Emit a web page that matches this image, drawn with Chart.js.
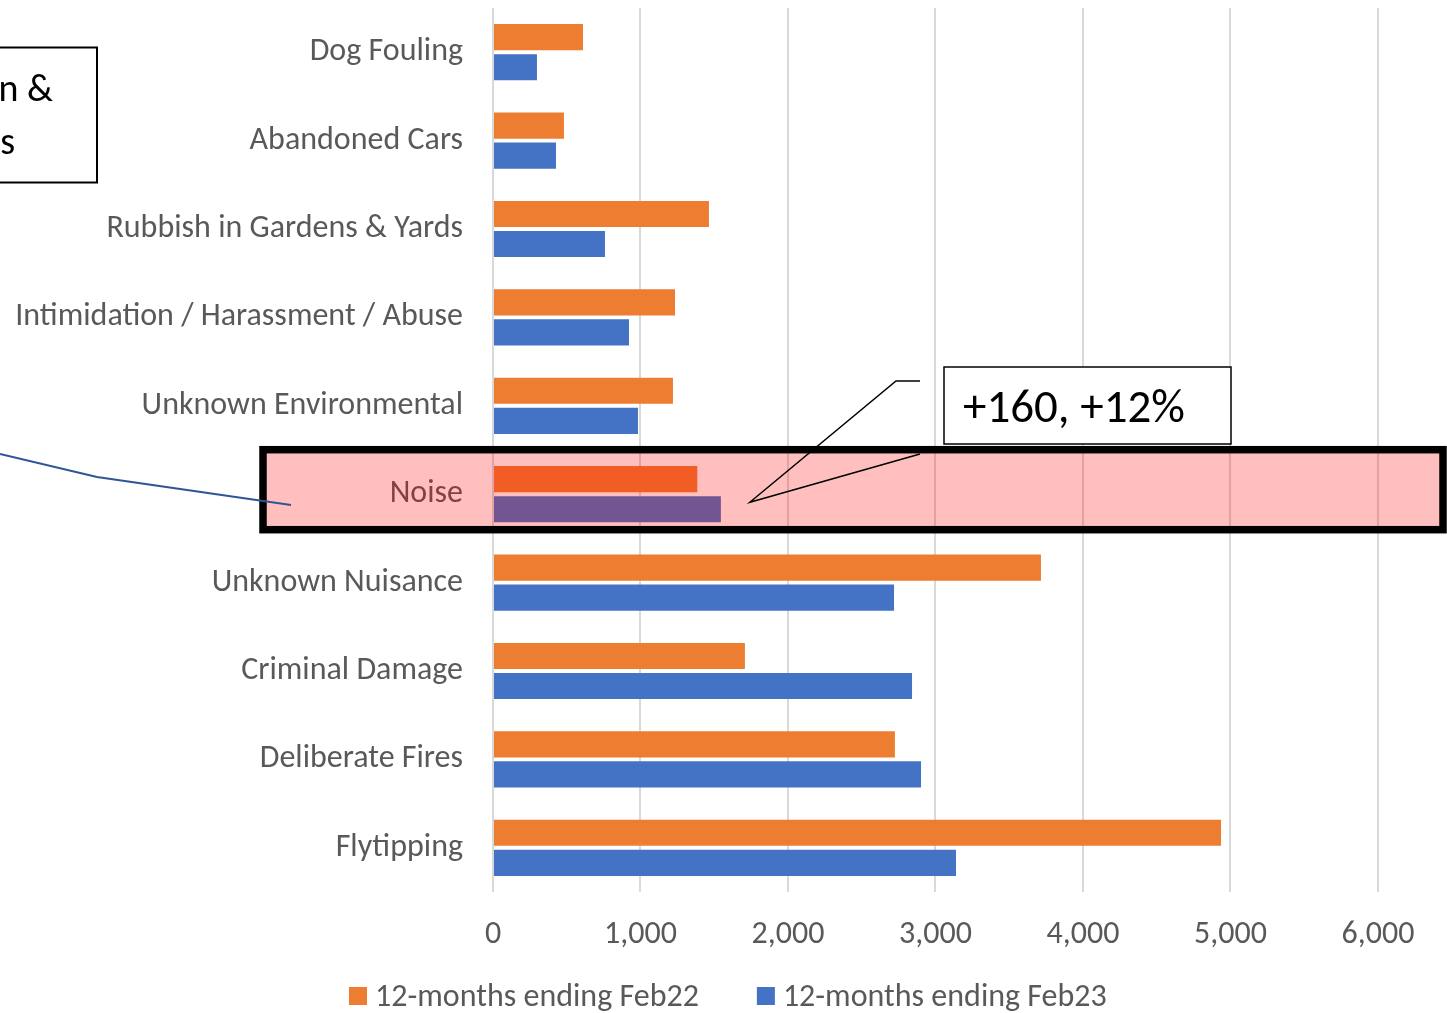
<!DOCTYPE html>
<html>
<head>
<meta charset="utf-8">
<script src="https://cdn.jsdelivr.net/npm/chart.js@4.4.0/dist/chart.umd.min.js"></script>
<style>
  body { margin: 0; background: #fff; }
  canvas { display: block; }
</style>
</head>
<body>
<canvas id="myChart" width="1447" height="1013"></canvas>
<script>
var categories = ['Dog Fouling', 'Abandoned Cars', 'Rubbish in Gardens & Yards',
    'Intimidation / Harassment / Abuse', 'Unknown Environmental', 'Noise',
    'Unknown Nuisance', 'Criminal Damage', 'Deliberate Fires', 'Flytipping'];
var feb22 = [610, 481, 1464, 1234, 1220, 1385, 3715, 1708, 2725, 4936];
var feb23 = [298, 427, 759, 922, 983, 1545, 2719, 2841, 2902, 3139];
var seriesNames = ['12-months ending Feb22', '12-months ending Feb23'];
var seriesColors = ['#ED7D31', '#4472C4'];
var xTicks = [0, 1000, 2000, 3000, 4000, 5000, 6000];

var FONT = 'Carlito, Lato, sans-serif';
var GREY = '#595959';

// legend drawn by hand so the spacing can follow the original
var bottomLegend = {
    id: 'bottomLegend',
    afterDraw: function(chart) {
        var ctx = chart.ctx;
        ctx.save();
        ctx.font = '32px ' + FONT;
        ctx.textBaseline = 'middle';
        ctx.textAlign = 'left';
        var x = 349, y = 996;
        chart.data.datasets.forEach(function(ds) {
            ctx.fillStyle = ds.backgroundColor;
            ctx.fillRect(x, y - 9, 18, 18);
            ctx.fillStyle = GREY;
            ctx.fillText(ds.label, x + 26, y + 2);
            x += 26 + ctx.measureText(ds.label).width + 58;
        });
        ctx.restore();
    }
};

// highlight box + callouts drawn on top of the chart
var overlay = {
    id: 'overlay',
    afterDraw: function(chart) {
        var ctx = chart.ctx;
        var y = chart.scales.y;
        var x = chart.scales.x;
        var noise = categories.indexOf('Noise');
        var cy = y.getPixelForValue(noise);
        var top = cy - 44.5;

        ctx.save();
        // pink band over the Noise row
        ctx.fillStyle = 'rgba(255,0,0,0.25)';
        ctx.fillRect(263, top, 1180, 80);
        ctx.strokeStyle = '#000';
        ctx.lineWidth = 7.5;
        ctx.strokeRect(263, top, 1180, 80);

        // left connector line
        ctx.strokeStyle = '#2F5597';
        ctx.lineWidth = 2;
        ctx.beginPath();
        ctx.moveTo(0, 454);
        ctx.lineTo(97, 477);
        ctx.lineTo(291, 505);
        ctx.stroke();

        // left text box (cropped by the edge)
        ctx.fillStyle = '#fff';
        ctx.fillRect(-300, 47, 397, 135);
        ctx.strokeStyle = '#000';
        ctx.lineWidth = 2;
        ctx.strokeRect(-300, 47.5, 397, 135);
        ctx.fillStyle = '#000';
        ctx.font = '38px ' + FONT;
        ctx.textAlign = 'right';
        ctx.textBaseline = 'alphabetic';
        ctx.fillText('Environmental Pollution &', 53, 101);
        ctx.fillText('Nuisances', 15, 154);

        // callout with pointer to the Noise bars
        var tipX = x.getPixelForValue(feb23[noise]) + 29;
        var tipY = cy + 8;
        ctx.strokeStyle = '#000';
        ctx.lineWidth = 1.5;
        ctx.beginPath();
        ctx.moveTo(920, 381);
        ctx.lineTo(896, 381);
        ctx.lineTo(tipX, tipY);
        ctx.lineTo(920, 454);
        ctx.stroke();

        ctx.fillStyle = '#fff';
        ctx.fillRect(944, 367, 287, 77);
        ctx.lineWidth = 1.5;
        ctx.strokeRect(944, 367, 287, 77);
        ctx.fillStyle = '#000';
        ctx.font = '47px ' + FONT;
        ctx.textAlign = 'left';
        ctx.fillText('+160, +12%', 963, 422);
        ctx.restore();
    }
};

var ctx = document.getElementById('myChart').getContext('2d');
var chart = new Chart(ctx, {
    type: 'bar',
    data: {
        labels: categories,
        datasets: [
            { label: seriesNames[0], data: feb22, backgroundColor: seriesColors[0],
              categoryPercentage: 0.68, barPercentage: 0.87 },
            { label: seriesNames[1], data: feb23, backgroundColor: seriesColors[1],
              categoryPercentage: 0.68, barPercentage: 0.87 }
        ]
    },
    options: {
        indexAxis: 'y',
        responsive: false,
        animation: false,
        layout: { padding: { top: 8, left: 0, right: 0, bottom: 61 } },
        plugins: {
            tooltip: { enabled: false },
            legend: { display: false }
        },
        scales: {
            x: {
                min: 0,
                max: 6468,
                afterBuildTicks: function(scale) {
                    scale.ticks = xTicks.map(function(v) { return { value: v }; });
                },
                afterFit: function(scale) { scale.height = 60; },
                ticks: {
                    color: GREY,
                    font: { family: FONT, size: 32 },
                    padding: 24,
                    maxRotation: 0,
                    callback: function(v) { return v.toLocaleString('en-US'); }
                },
                grid: { color: '#D9D9D9', lineWidth: 2, drawTicks: false },
                border: { display: false }
            },
            y: {
                afterFit: function(scale) {
                    scale.width = 493;
                    scale.paddingTop = 0;
                    scale.paddingBottom = 0;
                },
                ticks: {
                    color: GREY,
                    font: { family: FONT, size: 32 },
                    padding: 30
                },
                grid: { display: false, drawTicks: false },
                border: { display: false }
            }
        }
    },
    plugins: [overlay, bottomLegend]
});
</script>
</body>
</html>
